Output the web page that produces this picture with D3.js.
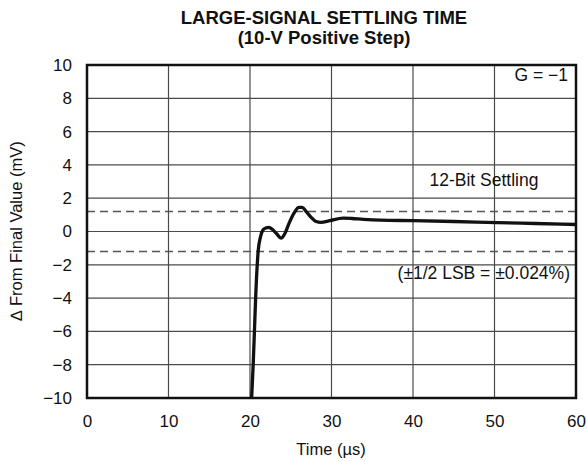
<!DOCTYPE html>
<html>
<head>
<meta charset="utf-8">
<script src="https://cdn.jsdelivr.net/npm/d3@7"></script>
<style>
  html, body { margin: 0; padding: 0; background: #fff; }
  text { font-family: "Liberation Sans", Arial, Helvetica, sans-serif; fill: #111; }
</style>
</head>
<body>
<svg id="chart" width="587" height="461"></svg>
<script>
// ---- data ----
const titleLines = ["LARGE-SIGNAL SETTLING TIME", "(10-V Positive Step)"];
const xTicks = [0, 10, 20, 30, 40, 50, 60];
const yTicks = [-10, -8, -6, -4, -2, 0, 2, 4, 6, 8, 10];
const settlingBand = [-1.2, 1.2];
const timeUs = [20.15, 20.2, 20.4, 20.55, 20.7, 20.9, 21.0, 21.3, 21.6, 22.0, 22.3, 22.8, 23.3, 23.8, 24.3, 24.8, 25.4, 26.0, 26.4, 26.9, 27.5, 28.1, 28.7, 29.8, 31.4, 32.5, 33.9, 36, 40, 45, 50.3, 55, 60];
const deltaMv = [-10.6, -10, -7.9, -5.9, -3.9, -1.9, -1.2, -0.3, 0.1, 0.22, 0.25, 0.1, -0.15, -0.4, -0.1, 0.5, 1.1, 1.45, 1.45, 1.2, 0.85, 0.6, 0.55, 0.65, 0.8, 0.78, 0.73, 0.68, 0.65, 0.6, 0.53, 0.48, 0.42];
const annotations = ["G = \u22121", "12-Bit Settling", "(\u00b11/2 LSB = \u00b10.024%)"];
const xLabel = "Time (\u00b5s)";
const yLabel = "\u2206 From Final Value (mV)";

// ---- layout ----
const svg = d3.select("#chart");
const L = 87, R = 576, T = 65, B = 398;
const x = d3.scaleLinear().domain([0, 60]).range([L, R]);
const y = d3.scaleLinear().domain([-10, 10]).range([B, T]);
const fmt = v => (v < 0 ? "\u2212" + Math.abs(v) : String(v));

svg.append("defs").append("clipPath").attr("id", "clip")
  .append("rect").attr("x", L).attr("y", T).attr("width", R - L).attr("height", B - T);

// grid
svg.append("g").selectAll("line").data(xTicks.slice(1, -1)).join("line")
  .attr("x1", d => x(d)).attr("x2", d => x(d)).attr("y1", T).attr("y2", B)
  .attr("stroke", "#4a4a4a").attr("stroke-width", 1.2);
svg.append("g").selectAll("line").data(yTicks.slice(1, -1)).join("line")
  .attr("x1", L).attr("x2", R).attr("y1", d => y(d)).attr("y2", d => y(d))
  .attr("stroke", "#4a4a4a").attr("stroke-width", 1.2);

// dashed settling band
svg.append("g").selectAll("line").data(settlingBand).join("line")
  .attr("x1", L).attr("x2", R).attr("y1", d => y(d)).attr("y2", d => y(d))
  .attr("stroke", "#555").attr("stroke-width", 1.5).attr("stroke-dasharray", "8,5");

// annotations
svg.append("text").attr("x", 568).attr("y", 81).attr("text-anchor", "end")
  .attr("font-size", 17.5).text(annotations[0]);
svg.append("text").attr("x", 484).attr("y", 186).attr("text-anchor", "middle")
  .attr("font-size", 17.5).text(annotations[1]);
svg.append("text").attr("x", 570).attr("y", 279).attr("text-anchor", "end")
  .attr("font-size", 17.5).text(annotations[2]);

// curve
const pts = timeUs.map((t, i) => [t, deltaMv[i]]);
svg.append("path").datum(pts)
  .attr("clip-path", "url(#clip)")
  .attr("d", d3.line().x(d => x(d[0])).y(d => y(d[1])).curve(d3.curveMonotoneX))
  .attr("fill", "none").attr("stroke", "#111").attr("stroke-width", 3.3)
  .attr("stroke-linejoin", "round");

// frame
svg.append("rect").attr("x", L).attr("y", T).attr("width", R - L).attr("height", B - T)
  .attr("fill", "none").attr("stroke", "#111").attr("stroke-width", 2.5);

// axes (labels only)
const xAxis = svg.append("g").attr("transform", `translate(0,${B})`)
  .call(d3.axisBottom(x).tickValues(xTicks).tickSize(0).tickPadding(17).tickFormat(fmt));
const yAxis = svg.append("g").attr("transform", `translate(${L},0)`)
  .call(d3.axisLeft(y).tickValues(yTicks).tickSize(0).tickPadding(15).tickFormat(fmt));
[xAxis, yAxis].forEach(g => {
  g.select(".domain").remove();
  g.selectAll("text").attr("font-size", 17)
    .attr("font-family", '"Liberation Sans", Arial, sans-serif').attr("fill", "#111");
});

// axis titles
svg.append("text").attr("x", 331).attr("y", 455).attr("text-anchor", "middle")
  .attr("font-size", 16.5).text(xLabel);
svg.append("text").attr("transform", "translate(22,231) rotate(-90)")
  .attr("text-anchor", "middle").attr("font-size", 16.5).text(yLabel);

// title
svg.append("g").selectAll("text").data(titleLines).join("text")
  .attr("x", 324).attr("y", (d, i) => 24 + i * 20).attr("text-anchor", "middle")
  .attr("font-size", 18.5).attr("font-weight", "bold").text(d => d);
</script>
</body>
</html>
